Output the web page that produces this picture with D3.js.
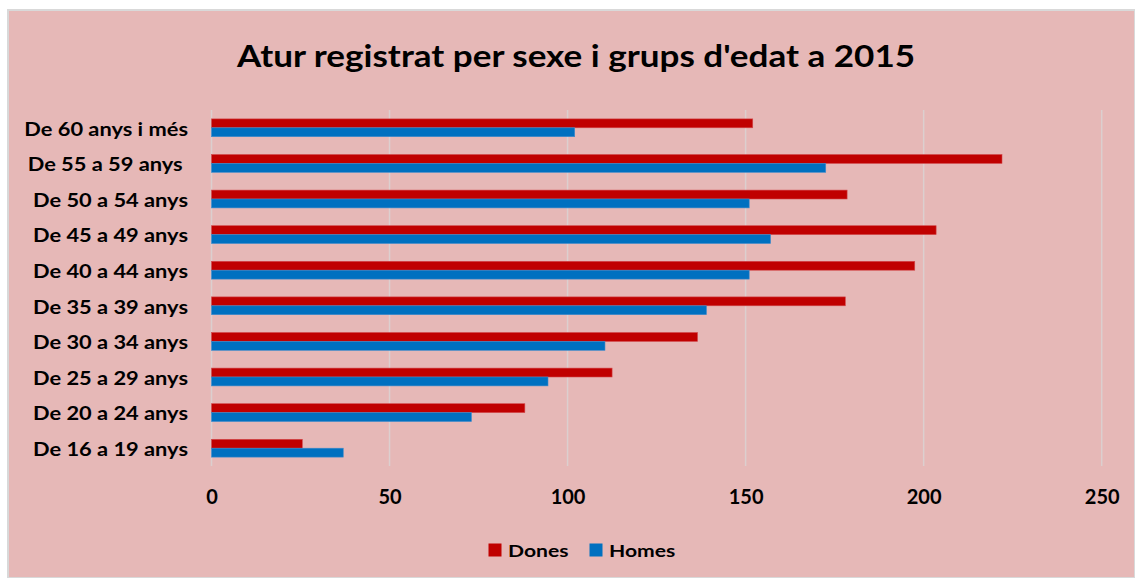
<!DOCTYPE html>
<html>
<head>
<meta charset="utf-8">
<script src="https://cdn.jsdelivr.net/npm/d3@7"></script>
<style>
  body { margin: 0; background: #fff; }
  text { font-family: Lato, "Open Sans", sans-serif; font-weight: bold; fill: #000; }
</style>
</head>
<body>
<script>
// categories, top to bottom as shown
var categories = ["De 60 anys i més", "De 55 a 59 anys ", "De 50 a 54 anys", "De 45 a 49 anys",
    "De 40 a 44 anys", "De 35 a 39 anys", "De 30 a 34 anys", "De 25 a 29 anys",
    "De 20 a 24 anys", "De 16 a 19 anys"];
var dones = [152, 222, 178.5, 203.5, 197.5, 178, 136.5, 112.5, 88, 25.5];
var homes = [102, 172.5, 151, 157, 151, 139, 110.5, 94.5, 73, 37];
var seriesNames = ["Dones", "Homes"];
var xTicks = [0, 50, 100, 150, 200, 250];

var colors = {Dones: "#C00000", Homes: "#0070C0"};
var W = 1135, H = 578;

var svg = d3.select("body").append("svg")
    .attr("width", W)
    .attr("height", H);

// chart area background
svg.append("rect")
    .attr("x", 8).attr("y", 10)
    .attr("width", W - 8).attr("height", H - 10)
    .attr("fill", "#E6B8B7")
    .attr("stroke", "#D9D9D9")
    .attr("stroke-width", 2);

// stretch text a little wider, the original font is wide
function stretch(sel, k) {
    sel.each(function () {
        var len = this.getComputedTextLength();
        d3.select(this).attr("textLength", len * k).attr("lengthAdjust", "spacingAndGlyphs");
    });
}

var title = svg.append("text")
    .attr("x", 576).attr("y", 67)
    .attr("text-anchor", "middle")
    .style("font-size", "31px")
    .text("Atur registrat per sexe i grups d'edat a 2015");
stretch(title, 1.13);

var x = d3.scaleLinear().domain([0, 250]).range([211.5, 1101.7]);
var y = d3.scaleBand().domain(categories).range([110, 466]).paddingInner(0.5).paddingOuter(0.25);
var ySub = d3.scaleBand().domain(seriesNames).range([0, y.bandwidth()]);

// gridlines
svg.append("g").selectAll("line").data(xTicks).enter().append("line")
    .attr("x1", function (d) { return x(d); })
    .attr("x2", function (d) { return x(d); })
    .attr("y1", 110).attr("y2", 466)
    .attr("stroke", "#DCCFCF")
    .attr("stroke-width", 1.5);

// x axis labels
var xAxis = d3.axisBottom(x).tickValues(xTicks).tickSize(0).tickPadding(0);
var gx = svg.append("g").attr("transform", "translate(0,489)").call(xAxis);
gx.select(".domain").remove();
gx.selectAll("text").style("font-size", "20px").attr("dy", "0.73em").attr("fill", "#000");

// y axis labels
var yAxis = d3.axisLeft(y).tickSize(0).tickPadding(0);
var gy = svg.append("g").attr("transform", "translate(188,0)").call(yAxis);
gy.select(".domain").remove();
gy.selectAll("text").style("font-size", "18.5px").style("white-space", "pre")
    .attr("dy", "0.42em").attr("fill", "#000");
stretch(gy.selectAll("text"), 1.18);

// bars
var rows = categories.map(function (c, i) {
    return {cat: c, values: [{s: "Dones", v: dones[i]}, {s: "Homes", v: homes[i]}]};
});
var groups = svg.append("g").selectAll("g").data(rows).enter().append("g")
    .attr("transform", function (d) { return "translate(0," + y(d.cat) + ")"; });
groups.selectAll("rect").data(function (d) { return d.values; }).enter().append("rect")
    .attr("x", x(0))
    .attr("y", function (d) { return ySub(d.s); })
    .attr("width", function (d) { return x(d.v) - x(0); })
    .attr("height", ySub.bandwidth())
    .attr("fill", function (d) { return colors[d.s]; })
    .attr("stroke", function (d) { return d.s === "Dones" ? "#D2484B" : "#3F8BCB"; })
    .attr("stroke-width", 0.6);

// legend
var legendX = [488.5, 589.5];
var legend = svg.append("g").selectAll("g").data(seriesNames).enter().append("g")
    .attr("transform", function (d, i) { return "translate(" + legendX[i] + ",543.5)"; });
legend.append("rect")
    .attr("width", 13).attr("height", 13)
    .attr("fill", function (d) { return colors[d]; });
var legendText = legend.append("text")
    .attr("x", 19.5).attr("y", 13)
    .style("font-size", "17.6px")
    .text(function (d) { return d; });
stretch(legendText, 1.2);
</script>
</body>
</html>
